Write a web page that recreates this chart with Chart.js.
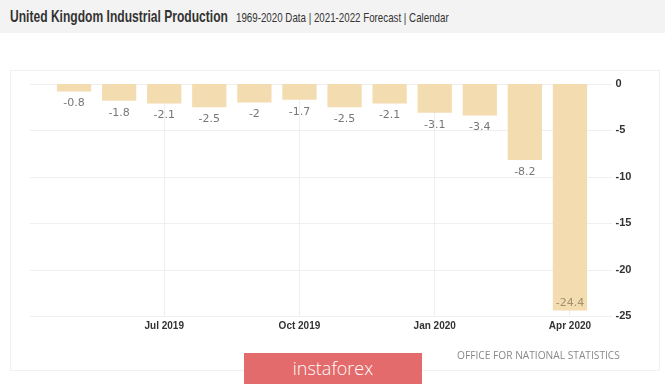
<!DOCTYPE html>
<html>
<head>
<meta charset="utf-8">
<script src="https://cdn.jsdelivr.net/npm/chart.js@4"></script>
<style>
    html, body { margin: 0; padding: 0; }
    body { width: 665px; height: 384px; background: #fff; position: relative; overflow: hidden; font-family: "Liberation Sans", Arial, sans-serif; }
    .topbar { position: absolute; left: 0; top: 0; width: 665px; height: 33px; background: #f3f3f3; }
    .title { position: absolute; left: 10px; top: 7px; font-size: 17px; font-weight: bold; color: #333; white-space: nowrap; transform-origin: left top; }
    .sub { position: absolute; left: 236px; top: 10px; font-size: 13px; color: #333; white-space: nowrap; transform-origin: left top; }
    .panel { position: absolute; left: 10px; top: 70px; width: 648px; height: 299px; border: 1px solid #f1f1f1; }
    .source { position: absolute; left: 457px; top: 347px; font-family: "Open Sans", sans-serif; font-size: 11px; color: #888; white-space: nowrap; transform-origin: left top; }
    .logo { position: absolute; left: 244px; top: 353px; width: 178px; height: 31px; background: #e46b6b; color: #fff; font-family: "Open Sans", sans-serif; font-size: 18px; font-weight: 300; text-align: center; line-height: 30px; }
    #wrap { position: absolute; left: 0; top: 0; width: 665px; height: 384px; }
</style>
</head>
<body>
<div class="topbar"></div>
<div class="title" id="title">United Kingdom Industrial Production</div>
<div class="sub" id="sub">1969-2020 Data | 2021-2022 Forecast | Calendar</div>
<div class="panel"></div>
<div id="wrap"><canvas id="chart"></canvas></div>
<div class="source" id="source">OFFICE FOR NATIONAL STATISTICS</div>
<div class="logo">instaforex</div>
<script>
const months = ['May 2019', 'Jun 2019', 'Jul 2019', 'Aug 2019', 'Sep 2019', 'Oct 2019',
    'Nov 2019', 'Dec 2019', 'Jan 2020', 'Feb 2020', 'Mar 2020', 'Apr 2020'];
const production = [-0.8, -1.8, -2.1, -2.5, -2, -1.7, -2.5, -2.1, -3.1, -3.4, -8.2, -24.4];
const shownMonths = ['Jul 2019', 'Oct 2019', 'Jan 2020', 'Apr 2020'];
const yTicks = [0, -5, -10, -15, -20, -25];

// the header font in the original is condensed, squeeze text to its width
function fitWidth(id, w) {
    const el = document.getElementById(id);
    el.style.transform = 'scaleX(' + (w / el.offsetWidth) + ')';
}
fitWidth('title', 218);
fitWidth('sub', 213);
fitWidth('source', 163);

// horizontal grid lines run wider than the bars
const wideGrid = {
    id: 'wideGrid',
    beforeDatasetsDraw(chart) {
        const ctx = chart.ctx;
        const y = chart.scales.y;
        ctx.save();
        ctx.strokeStyle = '#efefef';
        ctx.lineWidth = 1;
        yTicks.forEach(t => {
            const py = Math.round(y.getPixelForValue(t)) + 0.5;
            ctx.beginPath();
            ctx.moveTo(30, py);
            ctx.lineTo(612, py);
            ctx.stroke();
        });
        ctx.restore();
    }
};

// value labels under each bar
const valueLabels = {
    id: 'valueLabels',
    afterDatasetsDraw(chart) {
        const ctx = chart.ctx;
        const meta = chart.getDatasetMeta(0);
        const bottom = chart.chartArea.bottom;
        ctx.save();
        ctx.font = '11px "DejaVu Sans", sans-serif';
        ctx.textAlign = 'center';
        ctx.textBaseline = 'middle';
        meta.data.forEach((bar, i) => {
            let py = bar.y + 12;
            ctx.fillStyle = '#777';
            if (py + 6 > bottom) {
                py = bar.y - 7;
                ctx.fillStyle = '#a09070';
            }
            ctx.fillText(String(production[i]), bar.x, py);
        });
        ctx.restore();
    }
};

new Chart(document.getElementById('chart'), {
    type: 'bar',
    data: {
        labels: months,
        datasets: [{
            data: production,
            backgroundColor: '#f3dcb0',
            categoryPercentage: 1,
            barPercentage: 0.76
        }]
    },
    options: {
        responsive: true,
        maintainAspectRatio: false,
        animation: false,
        layout: { padding: { left: 51.5, right: 22.5, top: 84, bottom: 48 } },
        plugins: { legend: { display: false }, tooltip: { enabled: false } },
        scales: {
            x: {
                border: { display: false },
                grid: {
                    offset: false,
                    drawTicks: false,
                    color: ctx => shownMonths.includes(months[ctx.index]) ? '#efefef' : 'rgba(0,0,0,0)'
                },
                ticks: {
                    autoSkip: false,
                    maxRotation: 0,
                    padding: 4,
                    color: '#333',
                    font: { family: '"Liberation Sans", Arial, sans-serif', size: 10, weight: 'bold' },
                    callback: (v, i) => shownMonths.includes(months[i]) ? months[i] : ''
                },
                afterFit: s => { s.height = 20; }
            },
            y: {
                position: 'right',
                min: -25,
                max: 0,
                border: { display: false },
                grid: { display: false },
                ticks: {
                    stepSize: 5,
                    padding: 15,
                    crossAlign: 'near',
                    color: '#333',
                    font: { family: '"Liberation Sans", Arial, sans-serif', size: 11, weight: 'bold' }
                },
                afterFit: s => { s.width = 50; }
            }
        }
    },
    plugins: [wideGrid, valueLabels]
});
</script>
</body>
</html>
